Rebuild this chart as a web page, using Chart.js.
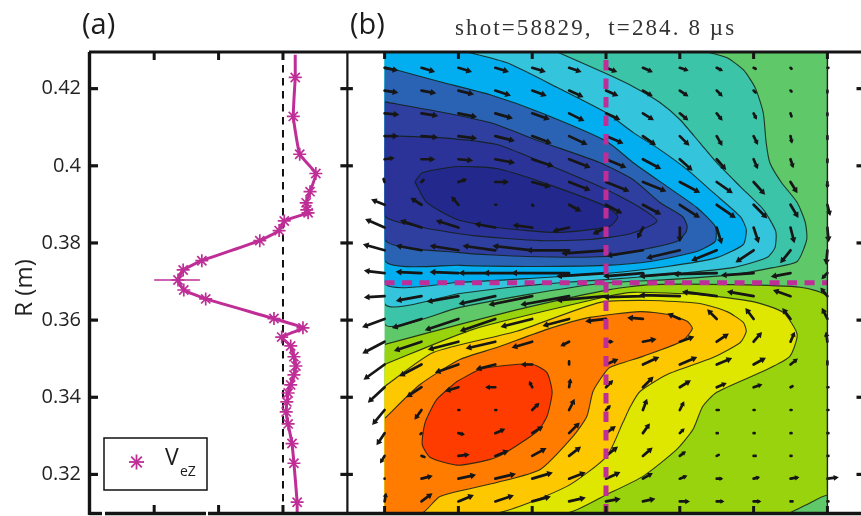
<!DOCTYPE html>
<html><head><meta charset="utf-8">
<style>html,body{margin:0;padding:0;background:#fff}canvas{display:block}</style>
<script src="https://cdn.jsdelivr.net/npm/chart.js@4"></script>
</head><body><canvas id="c" width="861" height="516"></canvas>
<script>
// Tick labels and tick positions
const yTicks = [0.32, 0.34, 0.36, 0.38, 0.40, 0.42];
const xATicks = [-2, -1, 0];
const xBTicks = [-3, -2, -1, 0, 1, 2, 3];
const legendLabel = "V";
const legendSub = "eZ";
const titleText = "shot=58829,  t=284. 8 \u00b5s";

// Panel (a): VeZ profile
const profileV = [0.19,0.19,0.16,0.26,0.51,0.42,0.36,0.37,0.39,0.02,-0.06,-0.36,-1.26,-1.55,-1.63,-1.54,-1.20,-0.14,0.31,-0.02,0.12,0.17,0.20,0.17,0.12,0.08,0.06,0.05,0.08,0.14,0.17,0.22,0.22];
const profileR = [0.4288,0.4229,0.4128,0.4030,0.3980,0.3933,0.3904,0.3886,0.3878,0.3857,0.3832,0.3806,0.3754,0.3730,0.3704,0.3678,0.3655,0.3604,0.3580,0.3556,0.3533,0.3505,0.3481,0.3458,0.3432,0.3411,0.3388,0.3362,0.3331,0.3280,0.3229,0.3128,0.3100];
const errorBarV = [-2.0, -1.29];
const errorBarR = [0.3704, 0.3704];

// Panel (b): vector field grid and components
const gridZ = [-3,-2.5,-2,-1.5,-1,-0.5,0,0.5,1,1.5,2,2.5,3];
const gridR = [0.4254,0.4195,0.4136,0.4077,0.4017,0.3958,0.3899,0.3840,0.3781,0.3722,0.3662,0.3603,0.3544,0.3485,0.3426,0.3367,0.3307,0.3248,0.3189,0.3130];
const arrowU = [
[10,10,10,10,10,9,8,7,6,4,2,1,1],
[10,11,12,12,11,11,9,7,6,4,2,1,0],
[11,13,15,14,14,12,11,8,6,4,2,1,0],
[10,13,15,16,16,15,14,10,7,4,3,1,0],
[7,10,11,16,18,18,17,15,10,7,3,2,0],
[-1,2,6,10,15,18,20,20,17,13,9,5,0],
[-10,-8,-5,1,1,9,13,15,17,16,11,6,2],
[-16,-18,-19,-17,-16,-13,-10,-4,0,4,4,3,1],
[-18,-22,-25,-29,-36,-39,-41,-33,-30,-22,-15,-8,-1],
[-17,-22,-25,-33,-45,-54,-46,-36,-37,-40,-29,-16,-4],
[-17,-22,-28,-33,-40,-45,-46,-36,-37,-31,-23,-14,-5],
[-19,-26,-30,-32,-28,-23,-17,-12,-9,-7,-6,-6,-4],
[-19,-24,-27,-26,-17,-6,5,10,11,9,6,3,-1],
[-18,-19,-20,-16,-8,0,9,13,14,12,9,5,0],
[-14,-12,-10,-7,-2,1,5,8,8,7,6,2,1],
[-10,-5,1,1,5,4,3,3,3,2,1,1,1],
[-6,-1,4,7,8,8,7,5,3,1,1,1,1],
[-3,3,8,10,11,9,9,7,4,2,2,1,1],
[0,8,14,17,17,13,11,7,5,4,4,6,8],
[1,8,12,15,15,13,11,9,7,5,5,2,1]];
const arrowV = [
[-2,-3,-3,-3,-3,-3,-3,-3,-2,-2,-1,-1,0],
[-1.5,-2,-3,-4,-4,-5,-4,-4,-4,-4,-2,-1,-2],
[-1,-2,-3,-4,-5,-6,-5,-5,-5,-5,-4,-3,-2],
[0,-1,-2,-4,-6,-7,-6,-7,-7,-7,-6,-5,-3],
[1,0,-1,-3,-6,-7,-7,-8,-9,-8,-7,-6,-3],
[3,2,2,0,-4,-7,-8,-8,-9,-9,-10,-8,-4],
[4,5,6,0,-1,-5,-7,-8,-11,-11,-11,-10,-8],
[7,6,6,3,2,-3,-5,-8,-11,-13,-12,-12,-11],
[5,4,4,4,4,0,-3,-5,-7,-9,-10,-10,-11],
[2,1,1,0,0,0,-3,-3,-3,-1,-2,-3,-4],
[-1,-4,-5,-7,-8,-8,-4,-1,1,4,4,5,6],
[-7,-8,-10,-11,-7,-6,-2,1,4,7,8,8,8],
[-10,-8,-7,-6,-5,-3,0,2,4,6,7,7,7],
[-13,-10,-7,-4,0,3,4,6,6,5,5,4,3],
[-13,-8,-3,0,4,6,5,8,5,3,2,1,0],
[-12,-7,0,0,5,8,3,8,6,0,0,0,0],
[-9,-1,-1,3,5,8,5,7,3,0,0,0,0],
[-5,-1,1,4,6,7,7,6,3,1,0,0,0],
[0,2,3,4,5,5,5,4,2,0,1,1,1],
[6,6,5,5,4,3,2,2,0,0,0,0,0]];

// Panel (b): contour outlines as [Z, R]
const domain = [[-3,0.4295],[3,0.4295],[3,0.31],[-3,0.31],[-3,0.4295]];
const contourTeal = [[1.37,0.4295],[1.64,0.4280],[1.86,0.4249],[2.02,0.4203],[2.13,0.4138],[2.17,0.4060],[2.22,0.4008],[2.38,0.3956],[2.59,0.3905],[2.70,0.3853],[2.72,0.3809],[2.59,0.3752],[2.26,0.3736],[1.72,0.3718],[0.83,0.3705],[-0.08,0.3695],[-1.07,0.3666],[-1.98,0.3633],[-3,0.3591],[-3,0.4295],[1.37,0.4295]];
const contourSky = [[-0.66,0.4295],[0,0.4239],[0.37,0.4205],[0.73,0.4164],[1,0.4120],[1.27,0.4060],[1.50,0.4008],[1.82,0.3946],[2.13,0.3887],[2.30,0.3830],[2.29,0.3788],[2.18,0.3762],[1.72,0.3736],[0.83,0.3718],[0,0.3705],[-0.62,0.3697],[-1.30,0.3685],[-1.98,0.3669],[-3,0.3643],[-3,0.4295],[-0.66,0.4295]];
const contourCyan = [[-1.88,0.4295],[-1.34,0.4267],[-0.66,0.4203],[0,0.4138],[0.37,0.4086],[0.73,0.4042],[1.10,0.3990],[1.45,0.3931],[1.82,0.3868],[1.90,0.3835],[1.86,0.3796],[1.50,0.3762],[0.83,0.3739],[0,0.3721],[-1.03,0.3708],[-1.98,0.3698],[-3,0.3697],[-3,0.4295],[-1.88,0.4295]];
const contourBlue = [[-3,0.4257],[-2.25,0.4218],[-1.57,0.4184],[-0.89,0.4138],[0.01,0.4063],[0.37,0.4008],[0.83,0.3946],[1.23,0.3892],[1.48,0.3843],[1.48,0.3804],[1.23,0.3778],[0.60,0.3752],[0,0.3742],[-1.07,0.3739],[-1.98,0.3742],[-3,0.3755],[-3,0.4257]];
const contourIndigo = [[-3,0.4166],[-2.25,0.4140],[-1.57,0.4112],[-0.89,0.4063],[-0.08,0.4008],[0.37,0.3964],[0.73,0.3905],[1.04,0.3868],[1.10,0.3843],[1.08,0.3827],[0.96,0.3804],[0.50,0.3783],[0,0.3765],[-1.07,0.3765],[-1.98,0.3775],[-3,0.3809],[-3,0.4166]];
const contourDeep = [[-3,0.4078],[-2.25,0.4073],[-1.48,0.4055],[-0.89,0.4011],[0.01,0.3938],[0.46,0.3892],[0.69,0.3856],[0.33,0.3824],[-0.22,0.3809],[-0.89,0.3806],[-1.80,0.3819],[-2.48,0.3840],[-3,0.3871],[-3,0.4078]];
const contourNavy = [[-2.59,0.3959],[-2.49,0.3982],[-2.01,0.3998],[-1.48,0.3993],[-0.89,0.3959],[0.01,0.3894],[0.16,0.3868],[0.05,0.3843],[-0.66,0.3827],[-1.48,0.3840],[-2.02,0.3861],[-2.43,0.3905],[-2.59,0.3959]];
const contourLime = [[-3,0.3537],[-1.98,0.3589],[-1.07,0.3633],[0.05,0.3679],[0.60,0.3692],[1.72,0.3692],[2.63,0.3685],[3,0.3659],[3,0.31],[-3,0.31],[-3,0.3537]];
const contourCorner = [[2.49,0.31],[2.70,0.3120],[3,0.3146],[3,0.31],[2.49,0.31]];
const contourYellow = [[-3,0.3485],[-1.80,0.3576],[0.01,0.3661],[0.37,0.3672],[1.27,0.3666],[1.99,0.3648],[2.40,0.3620],[2.59,0.3563],[2.49,0.3506],[2.18,0.3472],[1.50,0.3413],[1.31,0.3376],[1.18,0.3317],[0.96,0.3265],[0.50,0.3195],[0.01,0.3148],[-0.53,0.31],[-3,0.31],[-3,0.3485]];
const contourAmber = [[-3,0.3428],[-2.34,0.3516],[-1.21,0.3571],[-0.08,0.3646],[0.60,0.3651],[1.27,0.3643],[1.64,0.3622],[1.86,0.3594],[1.90,0.3571],[1.82,0.3542],[1.45,0.3503],[0.83,0.3459],[0.46,0.3415],[0.33,0.3376],[0.23,0.3335],[0.01,0.3247],[-0.53,0.3169],[-1.48,0.31],[-3,0.31],[-3,0.3428]];
const contourOrange = [[-3,0.3345],[-2.52,0.3433],[-1.98,0.3498],[-1.48,0.3529],[-0.80,0.3576],[-0.22,0.3607],[0.46,0.3622],[0.83,0.3615],[1.10,0.3597],[1.17,0.3578],[1.03,0.3545],[0.50,0.3506],[0.05,0.3477],[-0.08,0.3446],[-0.18,0.3413],[-0.26,0.3350],[-0.45,0.3298],[-0.89,0.3213],[-1.48,0.3179],[-2.25,0.3143],[-2.49,0.31],[-3,0.31],[-3,0.3345]];
const contourRed = [[-2.02,0.3441],[-1.71,0.3472],[-1.34,0.3483],[-0.99,0.3485],[-0.80,0.3464],[-0.73,0.3413],[-0.80,0.3350],[-0.93,0.3312],[-1.40,0.3252],[-1.61,0.3237],[-2.01,0.3224],[-2.38,0.3244],[-2.49,0.3278],[-2.45,0.3335],[-2.29,0.3395],[-2.02,0.3441]];

const layerOrder = [domain, contourTeal, contourSky, contourCyan, contourBlue, contourIndigo, contourDeep, contourNavy, contourLime, contourCorner, contourYellow, contourAmber, contourOrange, contourRed];
const layerColors = ['#5fc868','#3cc4a8','#34c4dc','#02aeef','#2a62b4','#2e3fa0','#2b3398','#23298c','#99d30e','#5fc868','#dfe600','#fec800','#ff7c00','#ff3c00'];

const MAGENTA = '#bf2e96';
const INK = '#161616';
const pairs = a => a.map(p => ({x: p[0], y: p[1]}));

// Quiver: one velocity unit in axis units
const quiverZ = 1 / 73.8, quiverR = 1 / 3853;
const shafts = [], tips = [], tipRot = [], tipSize = [];
gridR.forEach((r, i) => gridZ.forEach((z, j) => {
  const u = arrowU[i][j], v = arrowV[i][j], len = Math.hypot(u, v);
  const tip = {x: z + u * quiverZ, y: r + v * quiverR};
  shafts.push({x: z, y: r}, tip, {x: null, y: null});
  tips.push(tip);
  tipRot.push(Math.atan2(u, v) * 180 / Math.PI);
  tipSize.push(len < 4 ? 0 : Math.min(3.8, 1.8 + len * 0.2));
}));

const datasets = [];
layerOrder.forEach((shape, i) => datasets.push({
  type: 'scatter', xAxisID: 'xB', yAxisID: 'y', data: pairs(shape), showLine: true,
  tension: 0.2, borderColor: i === 0 ? 'rgba(0,0,0,0)' : 'rgba(20,30,20,0.85)', borderWidth: 1.1,
  pointRadius: 0, contourFill: layerColors[i], order: 100 - i,
  clip: {left: -296, right: -33, top: 0, bottom: 0}
}));
datasets.push({
  type: 'scatter', xAxisID: 'xB', yAxisID: 'y', data: shafts, showLine: true, spanGaps: false,
  borderColor: INK, borderWidth: 2.7, borderCapStyle: 'round', pointRadius: 0, order: 20
});
datasets.push({
  type: 'scatter', xAxisID: 'xB', yAxisID: 'y', data: tips, showLine: false,
  pointStyle: 'triangle', backgroundColor: INK, borderColor: INK, borderWidth: 0,
  pointRadius: c => tipSize[c.dataIndex], pointRotation: c => tipRot[c.dataIndex], order: 19
});
datasets.push({
  type: 'scatter', xAxisID: 'xB', yAxisID: 'y', data: [{x: 0, y: 0.4295}, {x: 0, y: 0.31}], showLine: true,
  borderColor: MAGENTA, borderWidth: 5, borderDash: [10.5, 8], borderDashOffset: 10.5, pointRadius: 0, order: 10
});
datasets.push({
  type: 'scatter', xAxisID: 'xB', yAxisID: 'y', data: [{x: -3, y: 0.3697}, {x: 3, y: 0.3697}], showLine: true,
  borderColor: MAGENTA, borderWidth: 5, borderDash: [10, 7.5], pointRadius: 0, order: 10
});
datasets.push({
  type: 'scatter', xAxisID: 'xA', yAxisID: 'y', data: [{x: 0, y: 0.4295}, {x: 0, y: 0.31}], showLine: true,
  borderColor: '#111', borderWidth: 2, borderDash: [7.5, 5.5], pointRadius: 0, order: 12
});
datasets.push({
  type: 'scatter', xAxisID: 'xA', yAxisID: 'y', data: errorBarV.map((v, i) => ({x: v, y: errorBarR[i]})), showLine: true,
  borderColor: MAGENTA, borderWidth: 1.6, pointRadius: 0, order: 11
});
datasets.push({
  label: 'VeZ', type: 'scatter', xAxisID: 'xA', yAxisID: 'y', showLine: true,
  data: profileV.map((v, i) => ({x: v, y: profileR[i]})), tension: 0.12,
  borderColor: MAGENTA, borderWidth: 3, pointStyle: 'star', pointBorderColor: MAGENTA, pointBorderWidth: 1.7,
  pointRadius: c => (c.dataIndex === 0 || c.dataIndex === profileV.length - 1) ? 0 : 6.5, order: 5
});

const contourFiller = {
  id: 'contourFiller',
  beforeDatasetDraw(chart, args) {
    const ds = chart.data.datasets[args.index];
    if (!ds.contourFill) return;
    const ctx = chart.ctx, line = args.meta.dataset, xs = chart.scales.xB, ys = chart.scales.y;
    line.updateControlPoints(chart.chartArea, 'x');
    ctx.save();
    ctx.beginPath();
    ctx.rect(xs.getPixelForValue(-3), ys.getPixelForValue(0.4295), xs.getPixelForValue(3) - xs.getPixelForValue(-3), ys.getPixelForValue(0.31) - ys.getPixelForValue(0.4295));
    ctx.clip();
    ctx.beginPath();
    line.path(ctx);
    ctx.closePath();
    ctx.fillStyle = ds.contourFill;
    ctx.fill();
    ctx.restore();
  }
};

const frame = {
  id: 'frame',
  afterDraw(chart) {
    const ctx = chart.ctx, a = chart.chartArea, xa = chart.scales.xA, xb = chart.scales.xB, y = chart.scales.y;
    const seg = (x0, y0, x1, y1, w, c) => {
      ctx.beginPath(); ctx.moveTo(x0, y0); ctx.lineTo(x1, y1);
      ctx.lineWidth = w; ctx.strokeStyle = c || '#141414'; ctx.stroke();
    };
    ctx.save();
    const mid = xa.getPixelForValue(1);
    seg(a.left, a.top, a.right, a.top, 3.2);
    seg(a.left, a.bottom + 0.5, 102, a.bottom + 0.5, 3.4);
    seg(105, a.bottom + 0.5, 206, a.bottom + 0.5, 3.4);
    seg(208, a.bottom + 0.5, a.right, a.bottom + 0.5, 3.4);
    seg(a.left + 0.5, a.top, a.left + 0.5, a.bottom + 2, 3.4);
    seg(mid, a.top, mid, a.bottom + 2, 2.2);
    seg(xb.getPixelForValue(3), a.top, xb.getPixelForValue(3), a.bottom, 1.4, '#222');
    xATicks.forEach(v => {
      const p = xa.getPixelForValue(v);
      seg(p, a.top, p, a.top + 8, 3);
      seg(p, a.bottom, p, a.bottom - 8, 3);
    });
    xBTicks.forEach(v => {
      const p = xb.getPixelForValue(v);
      seg(p, a.top, p, a.top + 7, 3);
      seg(p, a.bottom, p, a.bottom - 7, 3);
    });
    yTicks.forEach(v => {
      const p = y.getPixelForValue(v);
      seg(a.left, p, a.left + 9, p, 3.2);
      seg(mid - 7, p, mid + 5.5, p, 3.2);
      seg(a.right - 4.5, p, a.right, p, 3.2);
    });
    // Panel labels and title
    ctx.fillStyle = '#1c1c1c';
    ctx.textBaseline = 'alphabetic';
    ctx.textAlign = 'left';
    ctx.font = '29px "Open Sans"';
    ctx.fillText('(a)', 82, 34);
    ctx.fillText('(b)', 350, 34);
    ctx.fillStyle = '#333';
    ctx.font = '23px "Liberation Serif"';
    ctx.letterSpacing = '2.1px';
    ctx.fillText(titleText, 455, 35);
    ctx.letterSpacing = '0px';
    ctx.fillStyle = '#222';
    ctx.save();
    ctx.translate(32, 288);
    ctx.rotate(-Math.PI / 2);
    ctx.textAlign = 'center';
    ctx.font = '24px "Open Sans"';
    ctx.fillText('R (m)', 0, 0);
    ctx.restore();
    // Legend box
    ctx.lineWidth = 1.5; ctx.strokeStyle = '#111';
    ctx.fillStyle = '#fff';
    ctx.fillRect(104, 438, 103, 52);
    ctx.strokeRect(104, 438, 103, 52);
    ctx.strokeStyle = MAGENTA; ctx.lineWidth = 1.8;
    for (let k = 0; k < 4; k++) {
      const t = k * Math.PI / 4, dx = 7.5 * Math.cos(t), dy = 7.5 * Math.sin(t);
      ctx.beginPath(); ctx.moveTo(136.5 - dx, 462 - dy); ctx.lineTo(136.5 + dx, 462 + dy); ctx.stroke();
    }
    ctx.fillStyle = '#1c1c1c';
    ctx.font = '23px "Open Sans"';
    ctx.fillText(legendLabel, 165, 465);
    ctx.font = '14px "Open Sans"';
    ctx.fillText(legendSub, 180, 476);
    ctx.restore();
  }
};

const noPadding = s => { s.paddingLeft = s.paddingRight = s.paddingTop = s.paddingBottom = 0; };

new Chart(document.getElementById('c'), {
  type: 'scatter',
  data: {datasets},
  plugins: [contourFiller, frame],
  options: {
    responsive: false, animation: false, devicePixelRatio: 1,
    layout: {autoPadding: false, padding: {top: 52, right: 0, bottom: 3, left: 0}},
    plugins: {legend: {display: false}, tooltip: {enabled: false}, title: {display: false}},
    scales: {
      xA: {type: 'linear', display: false, bounds: 'data', min: -3.012, max: 8.975, afterFit: noPadding},
      xB: {type: 'linear', display: false, bounds: 'data', min: -7.005, max: 3.455, afterFit: noPadding},
      y: {
        type: 'linear', position: 'left', bounds: 'data', min: 0.31, max: 0.4295,
        afterFit: s => { s.width = 89; noPadding(s); },
        afterBuildTicks: s => { s.ticks = yTicks.map(value => ({value})); },
        grid: {display: false, drawTicks: false}, border: {display: false},
        ticks: {
          padding: 8, color: '#222', font: {family: '"Open Sans"', size: 20},
          callback: v => String(+v.toFixed(2))
        }
      }
    }
  }
});
</script></body></html>
